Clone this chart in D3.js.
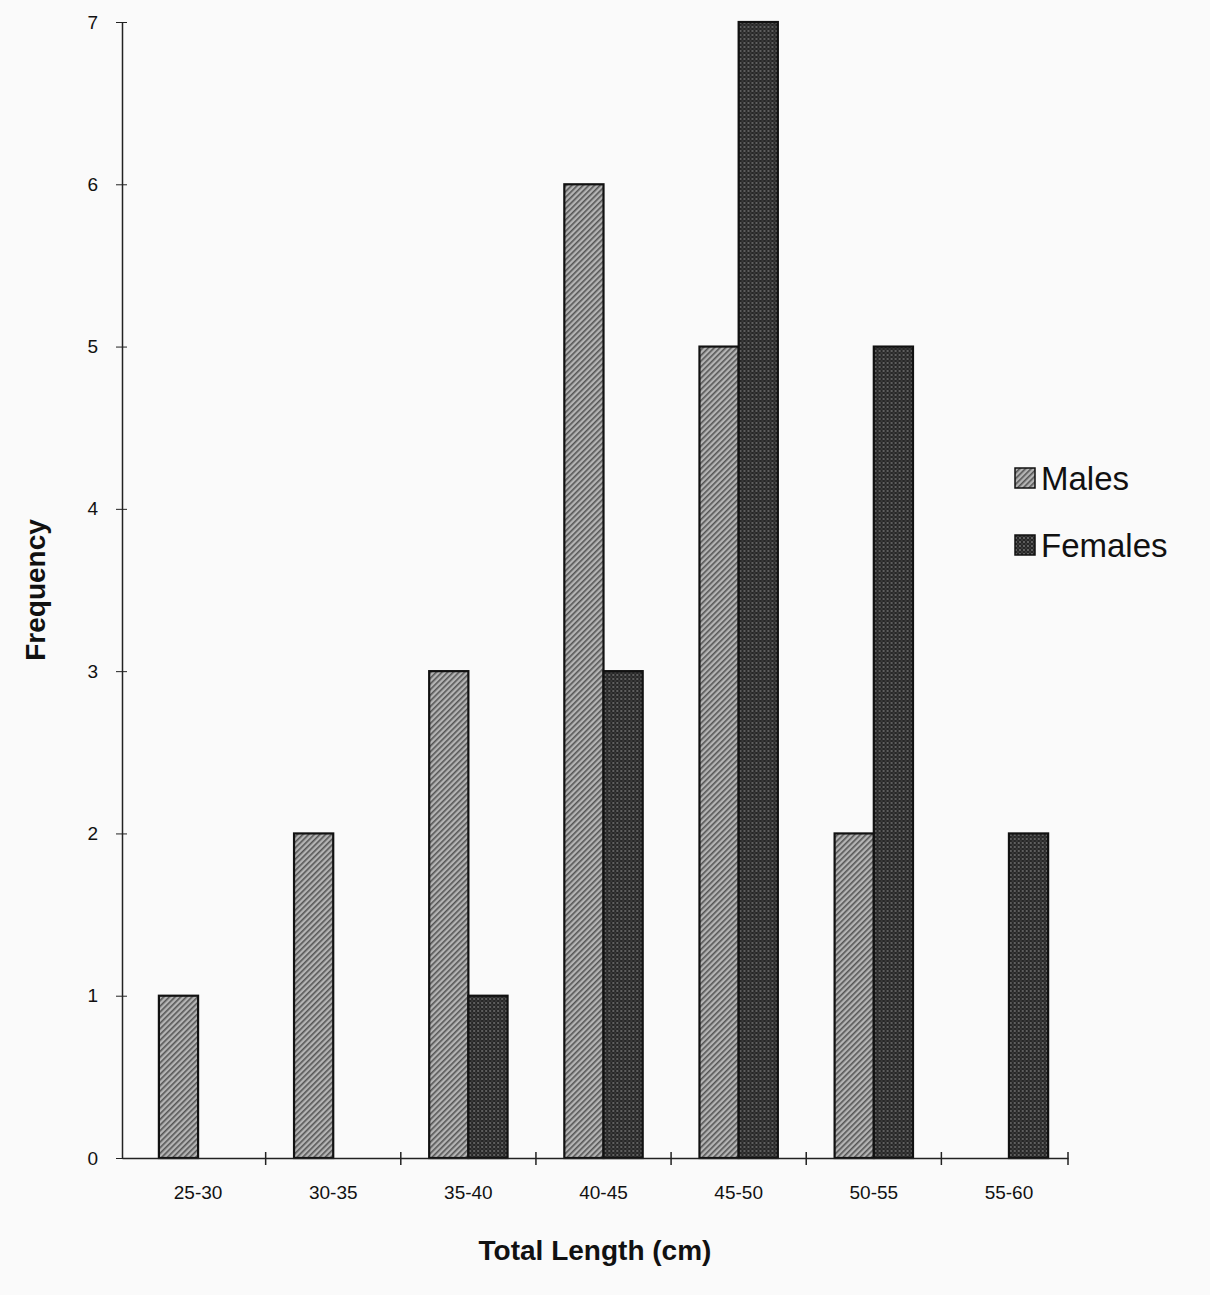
<!DOCTYPE html>
<html>
<head>
<meta charset="utf-8">
<title>Total Length frequency</title>
<script src="https://d3js.org/d3.v7.min.js"></script>
<style>
  body { margin: 0; background: #fafafa; }
  text { font-family: "Liberation Sans", Arial, sans-serif; fill: #111; }
</style>
</head>
<body>
<div id="chart"></div>
<script>
// data
const categories = ["25-30", "30-35", "35-40", "40-45", "45-50", "50-55", "55-60"];
const males   = [1, 2, 3, 6, 5, 2, 0];
const females = [0, 0, 1, 3, 7, 5, 2];
const seriesNames = ["Males", "Females"];
const yTicks = [0, 1, 2, 3, 4, 5, 6, 7];

const W = 1210, H = 1295;
const margin = {top: 22, right: 142, bottom: 137, left: 122};
const width = W - margin.left - margin.right,
      height = H - margin.top - margin.bottom;

const svg = d3.select("#chart").append("svg")
  .attr("width", W).attr("height", H);

// fill patterns
const defs = svg.append("defs");
const hatch = defs.append("pattern")
  .attr("id", "hatch").attr("patternUnits", "userSpaceOnUse")
  .attr("width", 4).attr("height", 4)
  .attr("patternTransform", "rotate(45)");
hatch.append("rect").attr("width", 4).attr("height", 4).attr("fill", "#b4b4b4");
hatch.append("rect").attr("width", 1.6).attr("height", 4).attr("fill", "#555");

const dots = defs.append("pattern")
  .attr("id", "dots").attr("patternUnits", "userSpaceOnUse")
  .attr("width", 4).attr("height", 4);
dots.append("rect").attr("width", 4).attr("height", 4).attr("fill", "#262626");
dots.append("circle").attr("cx", 1).attr("cy", 1).attr("r", 0.9).attr("fill", "#7a7a7a");
dots.append("circle").attr("cx", 3).attr("cy", 3).attr("r", 0.7).attr("fill", "#5a5a5a");

const fills = {Males: "url(#hatch)", Females: "url(#dots)"};

const g = svg.append("g").attr("transform", `translate(${margin.left},${margin.top})`);

const x0 = d3.scaleBand().domain(categories).range([0, width])
  .paddingInner(0.42).paddingOuter(0.21).align(0.65);
const x1 = d3.scaleBand().domain(seriesNames).range([0, x0.bandwidth()]);
const y = d3.scaleLinear().domain([0, 7]).range([height, 0]);

const rows = categories.map((c, i) => ({cat: c, Males: males[i], Females: females[i]}));

// bars
g.selectAll(".grp").data(rows).join("g")
  .attr("class", "grp")
  .attr("transform", d => `translate(${x0(d.cat)},0)`)
  .selectAll("rect")
  .data(d => seriesNames.map(s => ({s, v: d[s]})).filter(e => e.v > 0))
  .join("rect")
  .attr("x", d => x1(d.s))
  .attr("y", d => y(d.v))
  .attr("width", x1.bandwidth())
  .attr("height", d => y(0) - y(d.v))
  .attr("fill", d => fills[d.s])
  .attr("stroke", "#111").attr("stroke-width", 2.2);

// y axis
const yAxis = g.append("g")
  .call(d3.axisLeft(y).tickValues(yTicks).tickFormat(d3.format("d"))
    .tickSize(6).tickPadding(18).tickSizeOuter(0));
yAxis.select(".domain").attr("stroke", "#222").attr("stroke-width", 1.5);
yAxis.selectAll(".tick line").attr("x2", 5).attr("x1", -6).attr("stroke", "#222");
yAxis.selectAll(".tick text").attr("font-size", 19);

// x axis (labels centred, tick marks at category boundaries)
const xAxis = g.append("g").attr("transform", `translate(0,${height})`)
  .call(d3.axisBottom(x0).tickSize(0).tickPadding(28).tickSizeOuter(0));
xAxis.select(".domain").attr("stroke", "#222").attr("stroke-width", 1.5);
xAxis.selectAll(".tick text").attr("font-size", 19);
const step = x0.step();
const bounds = categories.slice(0, -1)
  .map(c => x0(c) - step * x0.paddingInner() / 2 + step)
  .concat([width]);
g.append("g").attr("transform", `translate(0,${height})`)
  .selectAll("line").data(bounds).join("line")
  .attr("x1", d => d).attr("x2", d => d)
  .attr("y1", -6).attr("y2", 7)
  .attr("stroke", "#222").attr("stroke-width", 1.5);

// axis titles
svg.append("text")
  .attr("transform", `translate(45,${margin.top + height / 2}) rotate(-90)`)
  .attr("text-anchor", "middle")
  .attr("font-size", 28).attr("font-weight", "bold")
  .text("Frequency");
svg.append("text")
  .attr("x", margin.left + width / 2).attr("y", 1260)
  .attr("text-anchor", "middle")
  .attr("font-size", 28).attr("font-weight", "bold")
  .text("Total Length (cm)");

// legend
const legend = svg.append("g").attr("transform", "translate(1015,478)");
const li = legend.selectAll("g").data(seriesNames).join("g")
  .attr("transform", (d, i) => `translate(0,${i * 67})`);
li.append("rect")
  .attr("x", 0).attr("y", -10).attr("width", 20).attr("height", 20)
  .attr("fill", d => fills[d]).attr("stroke", "#111").attr("stroke-width", 1.5);
li.append("text")
  .attr("x", 26).attr("y", 0).attr("dy", "0.36em")
  .attr("font-size", 33)
  .text(d => d);
</script>
</body>
</html>
